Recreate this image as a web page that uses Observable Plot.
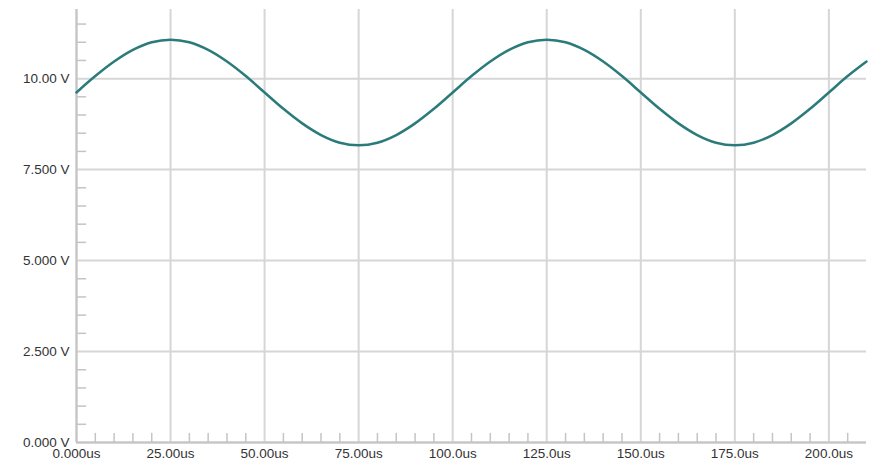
<!DOCTYPE html>
<html>
<head>
<meta charset="utf-8">
<script src="https://cdn.jsdelivr.net/npm/d3@7"></script>
<script src="https://cdn.jsdelivr.net/npm/@observablehq/plot@0.6"></script>
<style>
  html, body { margin: 0; padding: 0; background: #fff; }
</style>
</head>
<body>
<div id="chart"></div>
<script>
// Time (us) and voltage (V)
const timeUs = [0,5,10,15,20,25,30,35,40,45,50,55,60,65,70,75,80,85,90,95,100,
                105,110,115,120,125,130,135,140,145,150,155,160,165,170,175,180,185,190,195,200,205,210];
const voltage = [9.62,10.07,10.47,10.79,11.00,11.07,11.00,10.79,10.47,10.07,9.62,9.17,8.77,8.45,8.24,8.17,8.24,8.45,8.77,9.17,9.62,
                 10.07,10.47,10.79,11.00,11.07,11.00,10.79,10.47,10.07,9.62,9.17,8.77,8.45,8.24,8.17,8.24,8.45,8.77,9.17,9.62,10.07,10.47];

const xMajor = [0,25,50,75,100,125,150,175,200];
const xLabels = ["0.000us","25.00us","50.00us","75.00us","100.0us","125.0us","150.0us","175.0us","200.0us"];
const yMajor = [0,2.5,5,7.5,10];
const yLabels = ["0.000 V","2.500 V","5.000 V","7.500 V","10.00 V"];
const xMinor = d3.range(5, 210, 5).filter(v => v % 25 !== 0);
const yMinor = d3.range(0.5, 11.9, 0.5).filter(v => Math.abs(v % 2.5) > 1e-9);

const data = timeUs.map((t, i) => ({t, v: voltage[i]}));

const grid = "#d6d6d6";
const axisCol = "#c4c4c4";

const chart = Plot.plot({
  width: 877,
  height: 470,
  marginLeft: 76,
  marginRight: 11,
  marginTop: 9,
  marginBottom: 28,
  style: {fontFamily: "'Liberation Sans', Arial, sans-serif", fontSize: "13.5px", color: "#333", background: "#fff"},
  x: {domain: [0, 210]},
  y: {domain: [0, 11.9]},
  marks: [
    Plot.ruleX(xMajor, {stroke: grid, strokeWidth: 2}),
    Plot.ruleY(yMajor, {stroke: grid, strokeWidth: 2}),
    Plot.ruleX(xMinor, {y1: 0, y2: 0.25, stroke: axisCol, strokeWidth: 1.5}),
    Plot.ruleY(yMinor, {x1: 0, x2: 2.7, stroke: axisCol, strokeWidth: 1.5}),
    Plot.ruleX([0], {stroke: axisCol, strokeWidth: 2}),
    Plot.ruleY([0], {stroke: axisCol, strokeWidth: 2}),
    Plot.line(data, {x: "t", y: "v", stroke: "#2b7b7b", strokeWidth: 2.5, curve: "catmull-rom"}),
    Plot.axisX({ticks: xMajor, tickFormat: (d, i) => xLabels[i], tickSize: 0, tickPadding: 6, label: null}),
    Plot.axisY({ticks: yMajor, tickFormat: (d, i) => yLabels[i], tickSize: 0, tickPadding: 7, label: null})
  ]
});
document.getElementById("chart").appendChild(chart);
</script>
</body>
</html>
